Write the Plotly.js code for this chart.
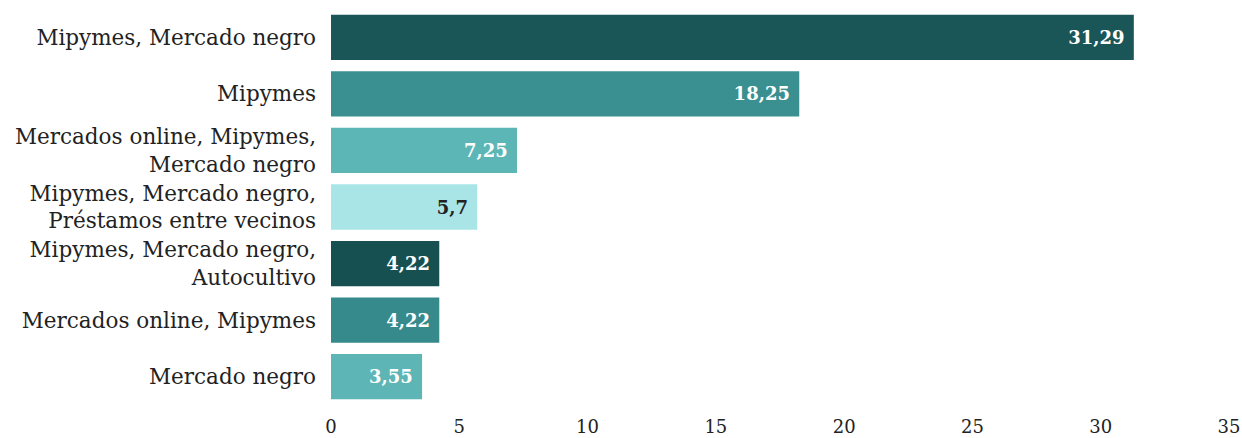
<!DOCTYPE html>
<html><head><meta charset="utf-8">
<script src="https://cdn.plot.ly/plotly-3.0.1.min.js"></script>
<style>html,body{margin:0;padding:0;background:#fff}#chart{width:1242px;height:438px}</style>
</head><body><div id="chart"></div>
<script>
const categories = [
  "Mipymes, Mercado negro",
  "Mipymes",
  "Mercados online, Mipymes,<br>Mercado negro",
  "Mipymes, Mercado negro,<br>Préstamos entre vecinos",
  "Mipymes, Mercado negro,<br>Autocultivo",
  "Mercados online, Mipymes",
  "Mercado negro"
];
const values = [31.29, 18.25, 7.25, 5.7, 4.22, 4.22, 3.55];
const barColors = ["#1a5558", "#3a8f90", "#5cb6b6", "#a9e4e6", "#175050", "#368a8c", "#5db5b5"];
const labelColors = ["#ffffff", "#ffffff", "#ffffff", "#222222", "#ffffff", "#ffffff", "#ffffff"];
const xTicks = [0, 5, 10, 15, 20, 25, 30, 35];

const trace = {
  type: "bar",
  orientation: "h",
  y: categories,
  x: values,
  text: values.map(v => String(v).replace(".", ",") + "\u00a0"),
  textposition: "inside",
  insidetextanchor: "end",
  textfont: {family: "DejaVu Serif", size: 18, color: labelColors, weight: "bold"},
  marker: {color: barColors},
  hoverinfo: "none"
};

const layout = {
  width: 1242, height: 438,
  margin: {l: 331, r: 13, t: 9, b: 33},
  paper_bgcolor: "#ffffff", plot_bgcolor: "#ffffff",
  bargap: 0.2,
  showlegend: false,
  font: {family: "DejaVu Serif", color: "#222222"},
  xaxis: {
    range: [0, 35], tickvals: xTicks, showgrid: false, zeroline: false, showline: false,
    ticks: "", ticklabelstandoff: 9, tickfont: {size: 18, family: "DejaVu Serif", color: "#222"}
  },
  yaxis: {
    autorange: "reversed", showgrid: false, zeroline: false, showline: false,
    ticks: "", ticklabelstandoff: 14, tickfont: {size: 21.5, family: "DejaVu Serif", color: "#222"}
  }
};
Plotly.newPlot("chart", [trace], layout, {displayModeBar: false, staticPlot: true});
</script></body></html>
